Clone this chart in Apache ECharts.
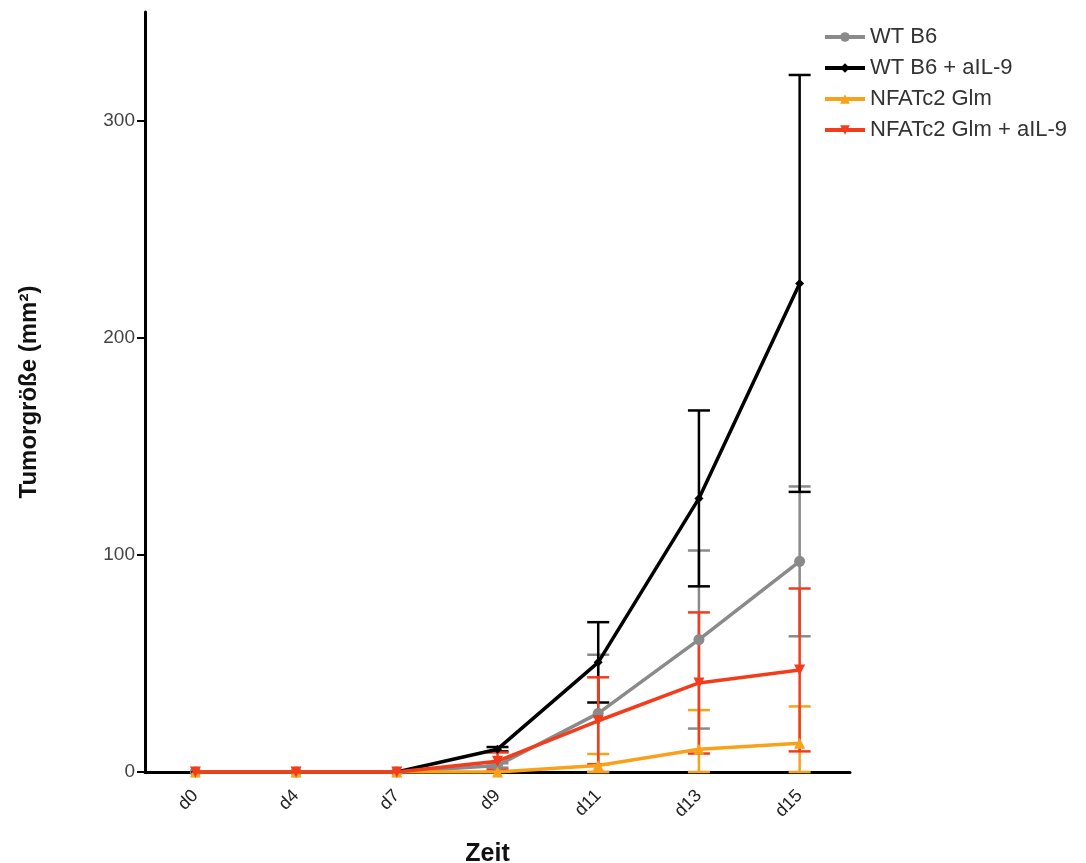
<!DOCTYPE html>
<html>
<head>
<meta charset="utf-8">
<script src="https://cdn.jsdelivr.net/npm/echarts@6/dist/echarts.min.js"></script>
<style>html,body{margin:0;padding:0;background:#fff}#c{width:1086px;height:863px}</style>
</head>
<body>
<div id="c"></div>
<script>
const categories = ['d0','d4','d7','d9','d11','d13','d15'];
const seriesNames = ['WT B6','WT B6 + aIL-9','NFATc2 Glm','NFATc2 Glm + aIL-9'];
const wtB6Mean      = [0, 0, 0, 3, 27, 61, 97];
const wtB6Sd        = [0, 0, 0, 1, 27, 41, 34.5];
const wtAilMean     = [0, 0, 0, 10.5, 50.5, 126, 225];
const wtAilSd       = [0, 0, 0, 1, 18.5, 40.5, 96];
const nfatMean      = [0, 0, 0, 0, 3, 10.5, 13.2];
const nfatSd        = [0, 0, 0, 0, 5.3, 18, 17];
const nfatAilMean   = [0, 0, 0, 5, 23.6, 41, 47];
const nfatAilSd     = [0, 0, 0, 4, 20, 32.5, 37.5];
const yTicks = [0, 100, 200, 300];

const colors = ['#8a8a8a', '#000000', '#f9a11b', '#f23c1c'];
const symbols = ['circle', 'diamond', 'triangle', 'path://M0,0 L10,0 L5,9 Z'];
const symbolSizes = [11, 9, 11, 11];
const means = [wtB6Mean, wtAilMean, nfatMean, nfatAilMean];
const sds = [wtB6Sd, wtAilSd, nfatSd, nfatAilSd];

const chart = echarts.init(document.getElementById('c'));
const series = [];
means.forEach((m, si) => {
  series.push({
    type: 'line',
    name: seriesNames[si],
    data: m,
    z: 10 + si,
    symbol: symbols[si],
    symbolSize: symbolSizes[si],
    showAllSymbol: true,
    lineStyle: {color: colors[si], width: 3.5},
    itemStyle: {color: colors[si]},
    emphasis: {disabled: true}
  });
});
// error bars
means.forEach((m, si) => {
  const data = m.map((v, i) => [i, Math.max(0, v - sds[si][i]), v + sds[si][i]]);
  series.push({
    type: 'custom',
    name: seriesNames[si],
    z: 2 + si,
    silent: true,
    data: data,
    renderItem: function (params, api) {
      const x = api.value(0);
      const lo = api.coord([x, api.value(1)]);
      const hi = api.coord([x, api.value(2)]);
      if (api.value(2) - api.value(1) < 0.01) return null;
      const w = 11;
      const st = {stroke: colors[si], lineWidth: 2.5};
      return {
        type: 'group',
        children: [
          {type: 'line', shape: {x1: hi[0], y1: hi[1], x2: lo[0], y2: lo[1]}, style: st},
          {type: 'line', shape: {x1: hi[0] - w, y1: hi[1], x2: hi[0] + w, y2: hi[1]}, style: st},
          {type: 'line', shape: {x1: lo[0] - w, y1: lo[1], x2: lo[0] + w, y2: lo[1]}, style: st}
        ]
      };
    }
  });
});

chart.setOption({
  animation: false,
  backgroundColor: '#fff',
  color: colors,
  grid: {left: 145, right: 236, top: 12, bottom: 91, containLabel: false, outerBoundsMode: 'none'},
  legend: {
    data: seriesNames,
    orient: 'vertical',
    left: 818,
    top: 21,
    itemGap: 9,
    itemWidth: 40,
    itemHeight: 12,
    lineStyle: {width: 4},
    textStyle: {fontFamily: 'Liberation Sans, Arial', fontSize: 22, color: '#333'}
  },
  xAxis: {
    type: 'category',
    data: categories,
    boundaryGap: true,
    name: 'Zeit',
    nameLocation: 'middle',
    nameGap: 70,
    nameTextStyle: {fontFamily: 'Liberation Sans, Arial', fontSize: 25, fontWeight: 'bold', color: '#111', padding: [0, 20, 0, 0]},
    axisLine: {lineStyle: {color: '#000', width: 3}},
    axisTick: {alignWithLabel: true, length: 7, lineStyle: {color: '#000', width: 3}},
    axisLabel: {rotate: 45, fontFamily: 'Liberation Sans, Arial', fontSize: 18, color: '#222', margin: 21},
    splitLine: {show: false}
  },
  yAxis: {
    type: 'value',
    min: 0,
    max: 350,
    interval: 50,
    name: 'Tumorgröße (mm²)',
    nameLocation: 'middle',
    nameGap: 104,
    nameRotate: 90,
    nameTextStyle: {fontFamily: 'Liberation Sans, Arial', fontSize: 24, fontWeight: 'bold', color: '#111'},
    axisLine: {show: true, lineStyle: {color: '#000', width: 3}},
    axisTick: {show: true, length: 8, customValues: yTicks, lineStyle: {color: '#000', width: 2}},
    axisLabel: {customValues: yTicks, fontFamily: 'Liberation Sans, Arial', fontSize: 19, color: '#444', margin: 10},
    splitLine: {show: false}
  },
  series: series
});
</script>
</body>
</html>
